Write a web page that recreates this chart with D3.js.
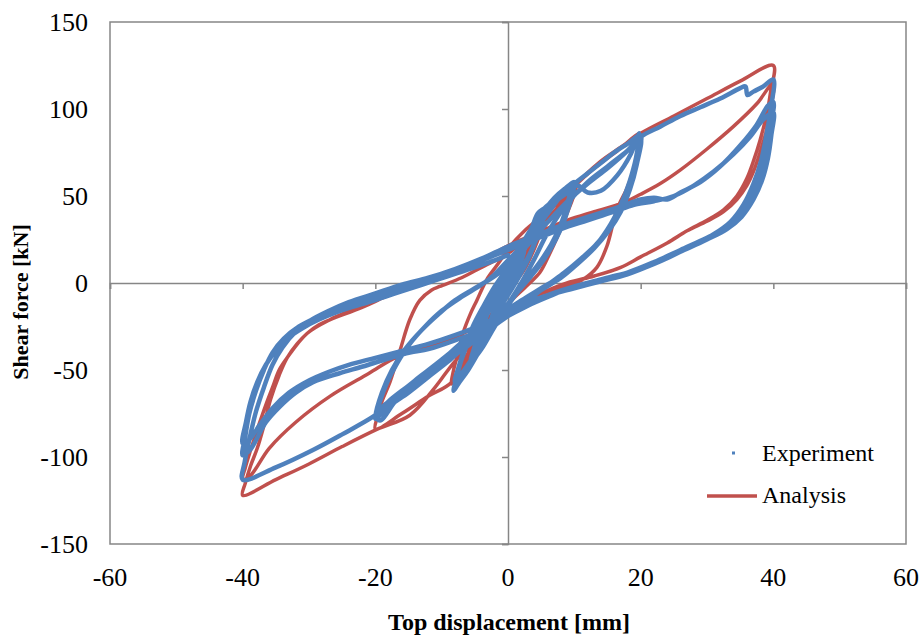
<!DOCTYPE html>
<html>
<head>
<meta charset="utf-8">
<script src="https://cdn.jsdelivr.net/npm/d3@7"></script>
<style>
  body { margin: 0; background: #fff; }
  svg { display: block; }
</style>
</head>
<body>
<div id="chart"></div>
<script>
// datos: [desplazamiento mm, cortante kN]
const xTicks = [-60, -40, -20, 0, 20, 40, 60];
const yTicks = [-150, -100, -50, 0, 50, 100, 150];
const seriesNames = ["Experiment", "Analysis"];

// ciclos experimentales
const experiment = [
  // +-2 mm
  [0,0],[1,8],[2,15],[1.3,8],[0.3,0],[-0.8,-8],[-2,-17],[-1.3,-10],[-0.3,-2],[0.8,6],[2,14],[1.2,7],[0,-2],[-1,-9],[-2,-16],[-1.2,-8],[0,1],
  [1.2,10],[2.5,19],[1.8,11],[0.6,2],[-0.6,-8],[-2.5,-21],[-1.8,-12],[-0.5,-3],
  // +-5 mm
  [1.5,12],[3,23],[4,30],[5,36],[4.3,26],[3.2,15],[2,6],[0.5,-4],[-1,-13],[-2.5,-24],[-4,-34],[-5,-41],[-4.3,-31],[-3.2,-19],[-2,-8],[-0.5,3],
  [1,12],[2.5,22],[4,31],[5,37],[4.2,25],[3,14],[1.5,3],[0,-6],[-1.5,-16],[-3,-27],[-4.5,-37],[-5,-40],[-4.2,-29],[-3,-17],[-1.5,-5],[0,5],
  [1.5,14],[3,25],[4.5,33],[5.2,38],[4.5,28],[3.2,16],[2,7],[0.5,-3],[-1,-12],[-2.5,-23],[-4,-33],[-5.2,-42],
  [-4.4,-32],[-3.4,-21],[-2.2,-10],[-0.8,0],[0.8,10],[2.4,20],[3.8,28],[5.5,39],[4.8,30],[3.8,21],[2.5,11],[1,1],[-0.8,-9],
  [-2.6,-21],[-4.2,-31],[-5.6,-44],
  // +-10 mm
  [-4.5,-30],[-3.5,-17],[-2,-4],[0,10],[2,22],[4,34],[5.5,42],[7,49],[8.5,54],[10,58],[9.8,52],[9,42],[7.8,30],[6,18],[4,8],[2,-2],[0,-12],
  [-2,-24],[-4,-37],[-6,-50],[-7.5,-58],[-8.2,-62],[-7.8,-55],[-7,-44],[-5.8,-32],[-4.5,-20],[-3,-10],[-1,2],[1,14],[3,27],[4.5,37],[5.5,43],
  [7,48],[7.6,51],[8.5,52],[9.7,56],[9.4,48],[8.5,36],[7.2,25],[5.5,14],[3.5,4],[1.5,-5],[0,-13],[-2,-25],[-4,-38],[-6,-48],[-8,-57],
  [-7.5,-49],[-6.5,-37],[-5.3,-25],[-3.8,-14],[-2,-2],[0,9],[2,21],[3.5,31],[4.5,40],[5.5,43],[6.5,46],[8,50],[9.3,54],
  [9,46],[8,34],[6.5,22],[4.8,12],[3,3],[1,-7],[-1,-17],[-3,-29],[-5,-41],[-7,-52],[-8,-56],[-7.2,-46],[-6,-34],[-4.6,-23],[-3,-12],
  [-1.2,-1],[0.5,8],[2.5,20],[4,30],[5,37],[6.2,44],[7.5,48],[9,52],
  // +-20 mm
  [10.5,56],[12,52],[14,53],[16.5,62],[18.5,74],[19.8,86],[19.3,72],[18.3,58],[17,45],[15.5,34],[13.5,23],[11,14],[8.5,6],[6,-1],[4,-7],
  [2,-13],[0,-19],[-3,-27],[-6,-35],[-9,-45],[-12,-54],[-15,-63],[-18,-71],[-20,-78],
  [-19.3,-68],[-18.2,-57],[-16.7,-46],[-14.8,-35],[-12.5,-25],[-10,-16],[-7,-8],[-4,-1],[-2,5],[0,13],[2,21],[4,30],[6,40],[8,50],[10,57],
  [12,63],[14,69],[16,75],[18,80],[20,85],
  [19.4,70],[18.3,55],[16.8,41],[15,30],[13,21],[10.5,12],[8,4],[5,-3],[2,-10],[0,-15],[-3,-24],[-6,-32],[-9,-41],[-12,-50],[-15,-59],
  [-18,-68],[-20,-76],
  [-19.3,-79],[-17,-68],[-14.3,-57],[-11.5,-49],[-8.7,-43],[-5,-33],[-2,-22],[0,-12],[2,0],[4,14],[6,29],[9,46],[12,58],[15,67],[18,76],[20,83],
  [19.4,68],[18.4,54],[17,41],[15.2,30],[13,20],[10.5,11],[8,3],[5,-4],[2,-11],[0,-16],[-3,-26],[-7,-37],[-11,-50],[-15,-62],[-19.5,-75],
  [-20,-77],[-19,-63],[-17.5,-50],[-15.5,-38],[-13,-27],[-10.5,-18],[-8,-10],[-5,-3],[-2,4],[0,10],
  // +-40 mm, ciclo 1
  [3,22],[6,35],[9,47],[12,57],[15,66],[18,76],[20,84],[23,90],[26,96],[29,101],[32,106],[35,112],[35.8,113],[36.1,108],[37,110],[38.5,113],[40,117],
  [39.6,100],[39,86],[38.2,71],[37,57],[35.5,45],[33.5,35],[31,28],[28,22],[24.4,15],[20,8],[15,3],[10,-2],[6,-7],[3,-12],[0,-17],
  [-3,-23],[-6,-31],[-9,-41],[-12,-52],[-15,-61],[-18,-70],[-20.4,-77],[-25,-87],[-29.4,-96],[-35,-106],[-40,-113],
  [-39.7,-103],[-39,-90],[-38,-74],[-36.8,-60],[-35.5,-47],[-34,-37],[-32,-28],[-30,-22],[-27,-16],[-24,-11],[-20,-6],[-16,-1],[-12,3],
  [-8,8],[-4,14],[0,21],[4,27],[8,33],[12,38],[17,44],[20,48],[22,49],[24,48],[26,52],[29,58],[32,67],[35,79],[37.5,91],[39.2,102],[40,104],
  // ciclo 2
  [39.6,90],[39,76],[38,62],[36.8,50],[35,40],[33,32],[30,26],[26,19],[22,12],[18,6],[14,2],[10,-2],[6,-8],[3,-13],[0,-19],
  [-4,-27],[-8,-33],[-12,-38],[-14.8,-40],[-18.5,-44],[-21.9,-48],[-25.5,-52],[-29.4,-57],[-32,-63],[-34.4,-71],[-36.5,-80],[-38.9,-96],[-40,-99],
  [-39.6,-88],[-39,-75],[-38,-62],[-36.8,-50],[-35.5,-40],[-33.8,-32],[-31.5,-25],[-29,-20],[-26,-15],[-22,-10],[-18,-5],[-14,0],[-10,5],
  [-6,10],[-2,16],[0,19],[4,25],[8,31],[12,36],[16,41],[19,45],[22,47],[25,50],[28,56],[31,64],[34,74],[36.5,84],[38.5,94],[40,98],
  // ciclo 3
  [39.7,85],[39.2,72],[38.3,59],[37,48],[35.2,38],[33,31],[30,25],[26,18],[22,11],[18,5],[14,1],[10,-3],[6,-7],[3,-11],[0,-16],
  [-4,-24],[-8,-30],[-12,-35],[-16,-39],[-20,-43],[-24,-47],[-27,-51],[-30,-56],[-33,-63],[-35.5,-72],[-37.5,-82],[-39,-90],[-40,-92],
  [-39.5,-80],[-38.8,-68],[-37.8,-57],[-36.5,-47],[-35,-39],[-33.3,-32],[-31,-26],[-28.5,-21],[-25.3,-16],[-21,-11],[-17,-6],[-13,-1],
  [-9,4],[-5,9],[-2,13],[0,16]
];

// modelo numerico
const analysis = [
  [0,0],[2,12],[4,24],[5,30],[4,20],[2.5,8],[1,0],[-1,-9],[-3,-21],[-5,-33],[-4,-22],[-2.5,-10],[-1,-1],[1,8],[3,19],[5,30],
  // +-10
  [7,40],[8.5,47],[10.4,58],[9.9,50],[8.9,40],[7.5,27],[6.3,17],[4.8,6],[3,-1],[0,-12],[-3,-25],[-5.5,-40],[-7,-50],[-8.5,-58],
  [-8.2,-50],[-7.5,-40],[-6.8,-29],[-5.7,-18],[-4.7,-10],[-3.2,2],[-1.5,11],[0.3,21],[2.5,30],[5,38],[7.5,46],[10.4,57],
  // +-20
  [13,66],[16.5,76],[20,86],[19.6,76],[19,66],[18,55],[16.4,42],[14.9,21],[13.4,9],[11.3,2],[8.9,-2],[6,-5],[3,-9],[0,-15],
  [-3,-25],[-6,-40],[-8.5,-57],[-12,-65],[-16,-75],[-20,-84],
  [-19.7,-77],[-19,-68],[-17.8,-57],[-16.3,-39],[-14.8,-21],[-13.3,-10],[-11.5,-4],[-10.3,-2],[-7,3],[-4,9],[0,17],[3,27],[6,38],
  [8.5,47],[10.4,57],[14,70],[17,78],[20,86],
  // +-40 ciclo 1
  [25,96],[30,106],[35,116],[40,125],[39.6,110],[39,97],[38,82],[37,70],[36,60],[34.5,50],[32.5,42],[30,36],[27,30],[24,23],[20,15],
  [17,9],[13,4],[9,0],[5,-6],[2,-12],[0,-17],[-4,-30],[-8,-45],[-11,-60],[-14.8,-76],[-19.7,-84],[-25,-94],[-30,-104],[-35,-113],[-40,-122],
  [-39.6,-115],[-38.8,-105],[-37.8,-95],[-36.8,-82],[-35.8,-67],[-34.5,-53],[-33.3,-43],[-31.8,-35],[-30.3,-29],[-28.5,-24],[-26.8,-21],
  [-22,-14],[-18,-7],[-14.8,-2],[-10.3,3],[-6,10],[-1.2,19],[0.3,22],[4.5,29],[8.9,36],[13,41],[17.3,46],[20,51],[22.9,57],[26,65],
  [30,77],[34,90],[37.5,103],[40,115],
  // ciclo 2
  [39.6,100],[39,88],[38,75],[37,64],[36,56],[34.5,48],[32.5,41],[30,35.5],[27,30],[24,23],[20,15],[17,9],[13,4],[8.9,0],[5,-6],
  [2.5,-11],[0.3,-17],[-3.5,-23],[-6.8,-29],[-9.2,-33],[-16.5,-42],[-21,-52],[-26.8,-65],[-32,-80],[-36,-95],[-38.9,-111],[-40,-113],
  [-39.6,-106],[-38.8,-96],[-37.6,-82],[-36.5,-70],[-35.5,-60],[-34.5,-50],[-33.3,-43],[-30.3,-29],[-26.8,-21],[-20,-10],[-14.8,-2],
  [-10,4],[-5,12],[0,20]
];

const width = 924;
const height = 637;
const margin = { left: 110, right: 18, top: 22, bottom: 93 };

const svg = d3.select('#chart')
  .append('svg')
  .attr('width', width)
  .attr('height', height);

const x = d3.scaleLinear().domain([-60, 60]).range([margin.left, width - margin.right]);
const y = d3.scaleLinear().domain([-150, 150]).range([height - margin.bottom, margin.top]);

const gris = '#868686';
const fuente = '"Liberation Serif", "DejaVu Serif", serif';

// marco del area de trazado
svg.append('rect')
  .attr('x', x(-60))
  .attr('y', y(150))
  .attr('width', x(60) - x(-60))
  .attr('height', y(-150) - y(150))
  .attr('fill', 'none')
  .attr('stroke', gris)
  .attr('stroke-width', 1.5);

// eje x sobre y = 0
const ejeX = svg.append('g')
  .attr('transform', `translate(0,${y(0)})`)
  .call(d3.axisBottom(x).tickValues(xTicks).tickSize(6).tickFormat(''));
ejeX.select('.domain').attr('stroke', gris).attr('stroke-width', 1.5);
ejeX.selectAll('.tick line').attr('stroke', gris).attr('stroke-width', 1.5);

// eje y sobre x = 0
const ejeY = svg.append('g')
  .attr('transform', `translate(${x(0)},0)`)
  .call(d3.axisLeft(y).tickValues(yTicks).tickSize(6).tickFormat(''));
ejeY.select('.domain').attr('stroke', gris).attr('stroke-width', 1.5);
ejeY.selectAll('.tick line').attr('stroke', gris).attr('stroke-width', 1.5);

// etiquetas de los ejes en el borde
svg.append('g')
  .selectAll('text')
  .data(xTicks)
  .join('text')
  .attr('x', d => x(d))
  .attr('y', y(-150) + 42)
  .attr('text-anchor', 'middle')
  .attr('font-family', fuente)
  .attr('font-size', 26)
  .text(d => d);

svg.append('g')
  .selectAll('text')
  .data(yTicks)
  .join('text')
  .attr('x', x(-60) - 22)
  .attr('y', d => y(d) + 9)
  .attr('text-anchor', 'end')
  .attr('font-family', fuente)
  .attr('font-size', 26)
  .text(d => d);

// titulos
svg.append('text')
  .attr('x', x(0) + 1)
  .attr('y', 630)
  .attr('text-anchor', 'middle')
  .attr('font-family', fuente)
  .attr('font-weight', 'bold')
  .attr('font-size', 24)
  .text('Top displacement [mm]');

svg.append('text')
  .attr('transform', 'translate(28,302) rotate(-90)')
  .attr('text-anchor', 'middle')
  .attr('font-family', fuente)
  .attr('font-weight', 'bold')
  .attr('font-size', 22)
  .text('Shear force [kN]');

// curvas
const linea = d3.line()
  .x(d => x(d[0]))
  .y(d => y(d[1]))
  .curve(d3.curveCatmullRom.alpha(0.5));

svg.append('path')
  .datum(analysis)
  .attr('d', linea)
  .attr('fill', 'none')
  .attr('stroke', '#C0504D')
  .attr('stroke-width', 3.5)
  .attr('stroke-linejoin', 'round');

svg.append('path')
  .datum(experiment)
  .attr('d', linea)
  .attr('fill', 'none')
  .attr('stroke', '#4F81BD')
  .attr('stroke-width', 4.5)
  .attr('stroke-linejoin', 'round')
  .attr('stroke-linecap', 'round');

// leyenda
const leyenda = svg.append('g').attr('transform', 'translate(706,453)');
leyenda.append('rect')
  .attr('x', 26).attr('y', -1.5)
  .attr('width', 3).attr('height', 3)
  .attr('fill', '#4F81BD');
leyenda.append('line')
  .attr('x1', 1).attr('x2', 51)
  .attr('y1', 43).attr('y2', 43)
  .attr('stroke', '#C0504D')
  .attr('stroke-width', 3.5);
leyenda.selectAll('text')
  .data(seriesNames)
  .join('text')
  .attr('x', 56)
  .attr('y', (d, i) => 8 + i * 42)
  .attr('font-family', fuente)
  .attr('font-size', 24)
  .text(d => d);
</script>
</body>
</html>
